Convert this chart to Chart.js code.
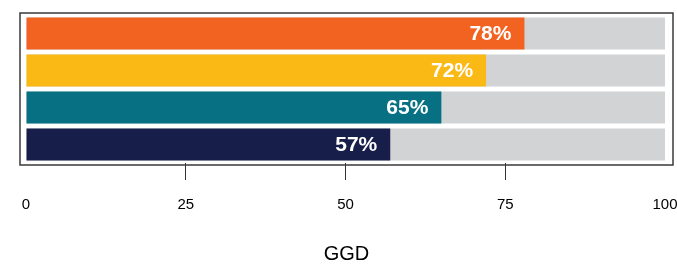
<!DOCTYPE html>
<html>
<head>
<meta charset="utf-8">
<script src="https://cdn.jsdelivr.net/npm/chart.js@4/dist/chart.umd.min.js"></script>
<style>
  html, body { margin: 0; padding: 0; background: #fff; }
  #wrap { width: 677px; height: 264px; }
</style>
</head>
<body>
<div id="wrap"><canvas id="chart"></canvas></div>
<script>
/* ================= DATA ================= */
const categories = ["A", "B", "C", "D"];
const values = [78, 72, 65, 57];
const totals = [100, 100, 100, 100];
const barColors = ["#F26322", "#FBB916", "#077083", "#181E4A"];
const xTicks = [0, 25, 50, 75, 100];
const axisTitle = "GGD";

/* ================= PLUGINS ================= */
// frame around the plot, a little taller than the bar area
const boxBorder = {
    id: "boxBorder",
    afterDraw(chart) {
        const { ctx, chartArea: a } = chart;
        const pad = 2;
        ctx.save();
        ctx.strokeStyle = "#3a3a3a";
        ctx.lineWidth = 1.5;
        ctx.strokeRect(a.left, a.top - pad, a.right - a.left, a.bottom - a.top + 2 * pad);
        ctx.restore();
    }
};

const valueLabels = {
    id: "valueLabels",
    afterDatasetsDraw(chart) {
        const { ctx } = chart;
        const meta = chart.getDatasetMeta(0);
        ctx.save();
        ctx.fillStyle = "#fff";
        ctx.font = "bold 21px 'Liberation Sans', Arial, sans-serif";
        ctx.textAlign = "right";
        ctx.textBaseline = "middle";
        meta.data.forEach((bar, i) => {
            ctx.fillText(values[i] + "%", bar.x - 13, bar.y + 1);
        });
        ctx.restore();
    }
};

/* ================= CHART ================= */
new Chart(document.getElementById("chart"), {
    type: "bar",
    data: {
        labels: categories,
        datasets: [
            {
                data: values,
                backgroundColor: barColors,
                grouped: false,
                barPercentage: 0.865,
                categoryPercentage: 1
            },
            {
                data: totals,
                backgroundColor: "#D2D3D5",
                grouped: false,
                barPercentage: 0.865,
                categoryPercentage: 1
            }
        ]
    },
    options: {
        indexAxis: "y",
        responsive: true,
        maintainAspectRatio: false,
        animation: false,
        layout: { padding: { top: 15, left: 20, right: 4, bottom: 0 } },
        plugins: {
            legend: { display: false },
            tooltip: { enabled: false }
        },
        scales: {
            y: { display: false },
            x: {
                min: -0.94,
                max: 101.25,
                afterBuildTicks: scale => {
                    scale.ticks = xTicks.map(v => ({ value: v }));
                },
                afterFit: scale => {
                    scale.paddingRight = 0;
                },
                border: { display: false },
                grid: {
                    drawOnChartArea: false,
                    drawTicks: true,
                    tickLength: 17,
                    lineWidth: 1,
                    color: ctx => (ctx.tick && (ctx.tick.value === 0 || ctx.tick.value === 100)) ? "rgba(0,0,0,0)" : "#333"
                },
                ticks: {
                    color: "#000",
                    padding: 17,
                    maxRotation: 0,
                    autoSkip: false,
                    font: { family: "'Liberation Sans', Arial, sans-serif", size: 15, lineHeight: 1 }
                },
                title: {
                    display: true,
                    text: axisTitle,
                    color: "#000",
                    padding: { top: 15, bottom: 0 },
                    font: { family: "'Liberation Sans', Arial, sans-serif", size: 20, lineHeight: 1 }
                }
            }
        }
    },
    plugins: [boxBorder, valueLabels]
});
</script>
</body>
</html>
